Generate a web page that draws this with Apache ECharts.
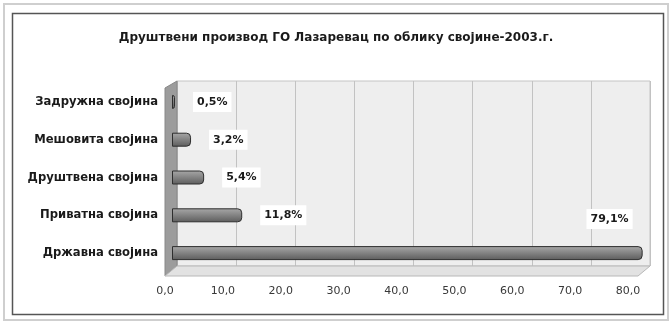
<!DOCTYPE html>
<html><head><meta charset="utf-8">
<script src="https://cdn.jsdelivr.net/npm/echarts@6/dist/echarts.min.js"></script>
<style>html,body{margin:0;padding:0;background:#fff}#c{width:672px;height:326px}</style>
</head><body><div id="c"></div>
<script>
const titleText = 'Друштвени производ ГО Лазаревац по облику својине-2003.г.';
const categories = ['Задружна својина', 'Мешовита својина', 'Друштвена својина', 'Приватна својина', 'Државна својина'];
const values = [0.5, 3.2, 5.4, 11.8, 79.1];
const labelTexts = ['0,5%', '3,2%', '5,4%', '11,8%', '79,1%'];
const tickLabels = ['0,0', '10,0', '20,0', '30,0', '40,0', '50,0', '60,0', '70,0', '80,0'];

const W = 672, H = 326;
const FONT = '"DejaVu Sans", "Liberation Sans", Arial, sans-serif';
// layout
const back = {left: 177, right: 22, top: 81, bottom: 326 - 266};
const depth = {dx: 12, dy: 10};

const chart = echarts.init(document.getElementById('c'), null, {renderer: 'canvas'});

const barData = values.map((v, i) => {
  const d = {value: v};
  if (i === values.length - 1) {
    d.label = {position: 'insideRight', offset: [8, -34]};
  }
  return d;
});

const option = {
  animation: false,
  backgroundColor: '#fff',
  title: {
    text: titleText, left: 'center', top: 27,
    textStyle: {fontFamily: FONT, fontSize: 12, fontWeight: 'bold', color: '#1a1a1a'}
  },
  grid: [
    {left: back.left, right: back.right, top: back.top, bottom: back.bottom, show: true,
     backgroundColor: '#eeeeee', borderColor: '#c4c4c4', borderWidth: 1, z: 0},
    {left: 172, right: 24, top: 83, bottom: 54},
    {left: 165, right: 44, top: 83, bottom: 52}
  ],
  xAxis: [
    {gridIndex: 0, type: 'value', min: 0, max: 80, interval: 10,
     axisLine: {show: false}, axisTick: {show: false}, axisLabel: {show: false},
     splitLine: {show: true, lineStyle: {color: '#c2c2c2', width: 1}}},
    {gridIndex: 1, type: 'value', min: 0, max: 80, interval: 10, show: false},
    {gridIndex: 2, type: 'value', min: 0, max: 80, interval: 10,
     axisLine: {show: false}, axisTick: {show: false}, splitLine: {show: false},
     axisLabel: {show: true, margin: 12, fontFamily: FONT, fontSize: 11, color: '#383838',
       formatter: (v) => tickLabels[Math.round(v / 10)]}}
  ],
  yAxis: [
    {gridIndex: 0, type: 'category', data: categories, show: false, inverse: true},
    {gridIndex: 1, type: 'category', data: categories, inverse: true,
     axisLine: {show: false}, axisTick: {show: false}, splitLine: {show: false},
     axisLabel: {margin: 14, fontFamily: FONT, fontSize: 11.6, fontWeight: 'bold', color: '#1a1a1a'}},
    {gridIndex: 2, type: 'category', data: categories, show: false, inverse: true}
  ],
  series: [{
    type: 'bar', xAxisIndex: 1, yAxisIndex: 1, data: barData, barWidth: 14, z: 5,
    itemStyle: {
      color: new echarts.graphic.LinearGradient(0, 0, 0, 1, [
        {offset: 0, color: '#a8a8a8'}, {offset: 0.35, color: '#8e8e8e'}, {offset: 1, color: '#5c5c5c'}
      ]),
      borderColor: '#2e2e2e', borderWidth: 1, borderRadius: [0, 4, 4, 0]
    },
    label: {
      show: true, position: 'right', distance: 18,
      formatter: (p) => labelTexts[p.dataIndex],
      fontFamily: FONT, fontSize: 11, fontWeight: 'bold', color: '#1a1a1a',
      backgroundColor: '#fff', padding: [5, 4, 4, 4]
    }
  }]
};
chart.setOption(option);

// 3D decorations (side wall and floor) derived from back-wall grid
const bl = back.left, bt = back.top, br = W - back.right, bb = H - back.bottom;
chart.setOption({
  graphic: [
    {type: 'rect', shape: {x: 4, y: 4, width: 664, height: 316}, style: {fill: 'none', stroke: '#cfcfcf', lineWidth: 2}, z: -1},
    {type: 'rect', shape: {x: 12.5, y: 13.5, width: 651, height: 301}, style: {fill: 'none', stroke: '#555', lineWidth: 1.5}, z: -1},
    {type: 'polygon', shape: {points: [[bl - depth.dx, bt + depth.dy - 3], [bl, bt], [bl, bb], [bl - depth.dx, bb + depth.dy]]},
     style: {fill: '#9c9c9c', stroke: '#888', lineWidth: 1}, z: 1},
    {type: 'polygon', shape: {points: [[bl, bb], [br, bb], [br - depth.dx, bb + depth.dy], [bl - depth.dx, bb + depth.dy]]},
     style: {fill: '#e2e2e2', stroke: '#b8b8b8', lineWidth: 1}, z: 1}
  ]
});
</script></body></html>
